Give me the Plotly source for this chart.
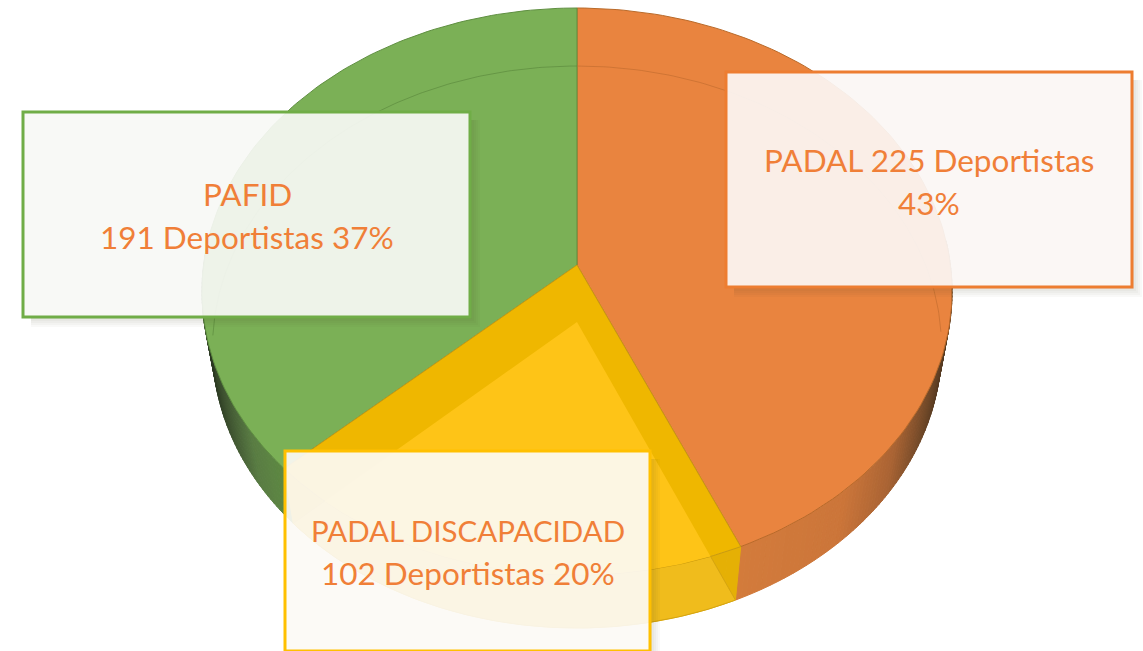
import numpy as np
import plotly.graph_objects as go

categories = ["PADAL", "PADAL DISCAPACIDAD", "PAFID"]
values = [225, 102, 191]
percents = [43, 20, 37]
box_lines = [["PADAL 225 Deportistas", "43%"],
             ["PADAL DISCAPACIDAD", "102 Deportistas 20%"],
             ["PAFID", "191 Deportistas 37%"]]

TOP = dict(A=373.4, D=265.0, c=-256.25, b=0.0935)
BOT = dict(A=363.0, D=322.0, c=-250.1, b=0.089)
CX = 577.0

def project(theta_deg, disc, r=1.0):
    t = np.radians(theta_deg)
    u, v = r * np.sin(t), r * np.cos(t)
    w = 1 + disc["b"] * v
    return CX + disc["A"] * u / w, (disc["D"] + disc["c"] * v) / w

def inside_top(x, y):
    d = TOP
    v = (y - d["D"]) / (d["c"] - d["b"] * y)
    u = (x - CX) * (1 + d["b"] * v) / d["A"]
    return u * u + v * v <= 1

total = sum(values)
edges = np.concatenate([[0], np.cumsum(values) / total * 360])
ang = {c: (edges[i], edges[i + 1]) for i, c in enumerate(categories)}

fig = go.Figure()

def poly(xs, ys, fill, line=None, w=0.0):
    fig.add_trace(go.Scatter(x=list(xs), y=list(ys), mode="lines", fill="toself",
                             fillcolor=fill, line=dict(color=line or fill, width=w),
                             hoverinfo="skip", showlegend=False))

def curve(xs, ys, color, w=1.0):
    fig.add_trace(go.Scatter(x=list(xs), y=list(ys), mode="lines",
                             line=dict(color=color, width=w),
                             hoverinfo="skip", showlegend=False))

def sector(a0, a1, disc, n=120):
    th = np.linspace(a0, a1, n)
    x, y = project(th, disc)
    return ([CX, *x, CX], [disc["D"], *y, disc["D"]])

def hexmix(stops, x):
    xp = [s[0] for s in stops]
    r = np.interp(x, xp, [s[1][0] for s in stops])
    g = np.interp(x, xp, [s[1][1] for s in stops])
    b = np.interp(x, xp, [s[1][2] for s in stops])
    return f"rgb({int(r)},{int(g)},{int(b)})"

def side(a0, a1, stops, step=0.8):
    th = np.arange(a0, a1 + 1e-6, step)
    if th[-1] < a1:
        th = np.append(th, a1)
    for t0, t1 in zip(th[:-1], th[1:]):
        x0, y0 = project(t0, TOP)
        x1, y1 = project(t1, TOP)
        x3, y3 = project(t0, BOT)
        x2, y2 = project(t1, BOT)
        col = hexmix(stops, (x0 + x1 + x2 + x3) / 4)
        poly([x0, x1, x2, x3, x0], [y0, y1, y2, y3, y0], col, col, 1.0)

orange_stops = [(730, (212, 124, 60)), (840, (204, 118, 58)), (890, (170, 100, 52)),
                (925, (112, 72, 40)), (950, (70, 50, 30))]
green_stops = [(205, (40, 52, 32)), (225, (62, 82, 48)), (255, (90, 125, 68)),
               (300, (96, 142, 66)), (400, (96, 142, 66))]

# side walls
side(ang["PADAL"][0] + 85, ang["PADAL"][1], orange_stops)
side(ang["PAFID"][0], ang["PAFID"][0] + 46, green_stops)
side(ang["PADAL DISCAPACIDAD"][0], ang["PADAL DISCAPACIDAD"][1],
     [(200, (229, 176, 5)), (1000, (229, 176, 5))], step=2.0)

# lower disc wedge, seen through the side wall
a0, a1 = ang["PADAL DISCAPACIDAD"]
poly(*sector(a0, a1, BOT), "#F0BC1C", "#CFA012", 0.8)

# top surface
sx, sy = sector(*ang["PADAL"], TOP)
poly(sx, sy, "#E9843F", "#B96A2A", 1.0)
sx, sy = sector(*ang["PAFID"], TOP)
poly(sx, sy, "#7BB056", "#5F8F41", 1.0)
sx, sy = sector(*ang["PADAL DISCAPACIDAD"], TOP)
poly(sx, sy, "#EFB700", "#C99A10", 1.0)

# lighter wedge: lower disc clipped to the top surface
th = np.linspace(a0, a1, 160)
bx, by = project(th, BOT)
cx, cy = [], []
for x, y in zip(bx, by):
    lo, hi = 0.0, 1.0
    if inside_top(x, y):
        lo = 1.0
    else:
        for _ in range(30):
            m = (lo + hi) / 2
            if inside_top(CX + (x - CX) * m, BOT["D"] + (y - BOT["D"]) * m):
                lo = m
            else:
                hi = m
    cx.append(CX + (x - CX) * lo)
    cy.append(BOT["D"] + (y - BOT["D"]) * lo)
poly([CX, *cx, CX], [BOT["D"], *cy, BOT["D"]], "#FEC417")

# far rim of the lower disc, faintly visible through the surface
th = np.linspace(ang["PADAL"][0], ang["PADAL"][0] + 92, 100)
curve(*project(th, BOT), "rgba(190,105,45,0.75)", 0.8)
th = np.linspace(ang["PAFID"][0] + 40, ang["PAFID"][1], 140)
curve(*project(th, BOT), "rgba(90,135,60,0.8)", 0.8)

# text boxes
boxes = [
    dict(x0=726, x1=1132, y0=72, y1=287, line="#ED7D31", fill="rgba(251,246,244,0.93)", cx=929, ys=[160, 203], size=[31.5, 31.5], shadow=0.03),
    dict(x0=285, x1=650, y0=451, y1=651, line="#FFC000", fill="rgba(252,250,245,0.92)", cx=468, ys=[530, 573], size=[29.5, 31.5], shadow=0.03),
    dict(x0=23, x1=470, y0=112, y1=317, line="#70AD47", fill="rgba(247,249,245,0.92)", cx=247, ys=[194, 237], size=[31.5, 31.5], shadow=0.03),
]
shapes = []
anns = []
for bx_, lines in zip(boxes, box_lines):
    for k in range(1, 6):
        d = k * 2
        sx0 = bx_["x0"] + 8
        shapes.append(dict(type="path", xref="x", yref="y",
                           path=(f"M{bx_['x1']},{bx_['y0']+8} L{bx_['x1']+d},{bx_['y0']+8} "
                                 f"L{bx_['x1']+d},{bx_['y1']+d} L{sx0},{bx_['y1']+d} "
                                 f"L{sx0},{bx_['y1']} L{bx_['x1']},{bx_['y1']} Z"),
                           fillcolor=f"rgba(60,60,40,{bx_['shadow']})", line=dict(width=0), layer="above"))
    shapes.append(dict(type="rect", xref="x", yref="y", x0=bx_["x0"], x1=bx_["x1"],
                       y0=bx_["y0"], y1=bx_["y1"], fillcolor=bx_["fill"],
                       line=dict(color=bx_["line"], width=3), layer="above"))
    for txt, yy, fs in zip(lines, bx_["ys"], bx_["size"]):
        anns.append(dict(x=bx_["cx"], y=yy, xref="x", yref="y", text=txt, showarrow=False,
                         xanchor="center", yanchor="middle",
                         font=dict(family="Lato", size=fs, color="#F07F38")))

fig.update_layout(
    width=1143, height=651, margin=dict(l=0, r=0, t=0, b=0),
    paper_bgcolor="white", plot_bgcolor="white", showlegend=False,
    xaxis=dict(range=[0, 1143], visible=False, fixedrange=True),
    yaxis=dict(range=[651, 0], visible=False, fixedrange=True),
    shapes=shapes, annotations=anns,
)
post = ("document.body.style.margin='0';"
        "var s=document.createElement('style');"
        "s.textContent='.annotation-text{font-variant-ligatures:none}';"
        "document.head.appendChild(s);")
fig.write_html("out.html", config=dict(displayModeBar=False), post_script=post)
